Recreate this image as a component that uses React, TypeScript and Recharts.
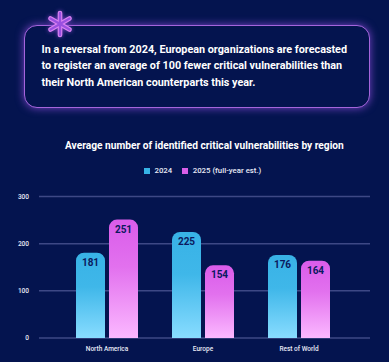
import { BarChart, Bar, XAxis, YAxis, CartesianGrid, LabelList } from 'recharts';

const regions = ['North America', 'Europe', 'Rest of World'];
const values2024 = [181, 225, 176];
const values2025 = [251, 154, 164];
const yTicks = [0, 100, 200, 300];

const data = regions.map((region, i) => ({
  region,
  y2024: values2024[i],
  y2025: values2025[i],
}));

const font = 'Roboto, sans-serif';
const legendItems = [
  { label: '2024', color: '#36b3e6' },
  { label: '2025 (full-year est.)', color: '#d95fe8' },
];

function ChartLegend() {
  return (
    <div style={{ position: 'absolute', left: 144, top: 165, display: 'flex', alignItems: 'center', gap: 10, fontFamily: font, fontSize: 7.8, fontWeight: 500, lineHeight: '12px', color: '#e8eaf6', whiteSpace: 'nowrap' }}>
      {legendItems.map((item) => (
        <span key={item.label} style={{ display: 'flex', alignItems: 'center', gap: 4.5 }}>
          <span style={{ width: 6, height: 6, background: item.color, display: 'inline-block' }} />
          {item.label}
        </span>
      ))}
    </div>
  );
}

function Asterisk() {
  const arm = 'M15 4 V26';
  return (
    <svg width="30" height="30" viewBox="0 0 30 30" style={{ position: 'absolute', left: 44.5, top: 9, overflow: 'visible', filter: 'drop-shadow(0 0 2px #7a45c8)' }}>
      {[0, 60, 120].map((a) => (
        <path key={a} d={arm} transform={`rotate(${a} 15 15)`} stroke="#dc84f2" strokeWidth="4.6" strokeLinecap="round" fill="none" />
      ))}
      {[0, 60, 120].map((a) => (
        <path key={a} d={arm} transform={`rotate(${a} 15 15)`} stroke="#9a50e0" strokeWidth="2.4" strokeLinecap="round" fill="none" />
      ))}
    </svg>
  );
}

export default function App() {
  return (
    <div style={{ position: 'absolute', left: 0, top: 0, width: 389, height: 362, background: '#04144f', overflow: 'hidden', fontFamily: font }}>
      <div style={{ position: 'absolute', left: 24, top: 25, width: 346, height: 83, boxSizing: 'border-box', border: '1.5px solid #a565dc', borderRadius: 13, boxShadow: '0 0 8px #7a45c8', background: '#04144f' }} />
      <div style={{ position: 'absolute', left: 41.5, top: 41.5, color: '#fff', fontSize: 10.8, fontWeight: 700, lineHeight: '16.5px', whiteSpace: 'nowrap' }}>
        In a reversal from 2024, European organizations are forecasted
        <br />
        to register an average of 100 fewer critical vulnerabilities than
        <br />
        their North American counterparts this year.
      </div>
      <Asterisk />
      <div style={{ position: 'absolute', left: 65, top: 139, color: '#fff', fontSize: 10.2, fontWeight: 700, lineHeight: '14px', whiteSpace: 'nowrap' }}>
        Average number of identified critical vulnerabilities by region
      </div>
      <ChartLegend />
      <div style={{ position: 'absolute', left: 0, top: 0 }}>
        <BarChart
          width={389}
          height={362}
          data={data}
          barSize={29}
          barGap={4}
          margin={{ top: 196.5, right: 19, bottom: 0, left: 0 }}
        >
          <defs>
            <linearGradient id="grad2024" x1="0" y1="0" x2="0" y2="1">
              <stop offset="0%" stopColor="#38b2e6" />
              <stop offset="40%" stopColor="#3fb7e9" />
              <stop offset="100%" stopColor="#88dcff" />
            </linearGradient>
            <linearGradient id="grad2025" x1="0" y1="0" x2="0" y2="1">
              <stop offset="0%" stopColor="#da5cea" />
              <stop offset="40%" stopColor="#e271ee" />
              <stop offset="100%" stopColor="#fbb8ff" />
            </linearGradient>
          </defs>
          <CartesianGrid vertical={false} stroke="#3d4885" strokeWidth={1.5} />
          <XAxis
            dataKey="region"
            axisLine={false}
            tickLine={false}
            height={24}
            interval={0}
            padding={{ left: 20, right: 23 }}
            tick={{ fill: '#e8eaf6', fontSize: 6.5, fontFamily: font, fontWeight: 500 }}
          />
          <YAxis
            width={39}
            domain={[0, 300]}
            ticks={yTicks}
            axisLine={false}
            tickLine={false}
            tickMargin={4}
            tick={{ fill: '#e8eaf6', fontSize: 6.5, fontFamily: font, fontWeight: 500 }}
          />
          <Bar dataKey="y2024" fill="url(#grad2024)" radius={[8, 8, 0, 0]} isAnimationActive={false}>
            <LabelList dataKey="y2024" position="insideTop" offset={6} fill="#0b1a5e" fontSize={10} fontWeight={700} fontFamily={font} />
          </Bar>
          <Bar dataKey="y2025" fill="url(#grad2025)" radius={[8, 8, 0, 0]} isAnimationActive={false}>
            <LabelList dataKey="y2025" position="insideTop" offset={6} fill="#0b1a5e" fontSize={10} fontWeight={700} fontFamily={font} />
          </Bar>
        </BarChart>
      </div>
    </div>
  );
}
